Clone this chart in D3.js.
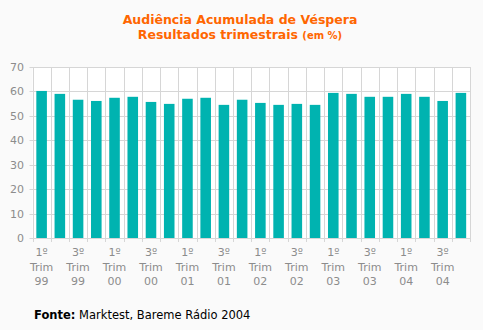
<!DOCTYPE html>
<html><head><meta charset="utf-8">
<script src="https://cdn.jsdelivr.net/npm/d3@7"></script>
<style>
html,body{margin:0;padding:0;background:#fafafa;}
svg{display:block;}
</style></head>
<body>
<script>
const categories = ["1º Trim 99","2º Trim 99","3º Trim 99","4º Trim 99",
  "1º Trim 00","2º Trim 00","3º Trim 00","4º Trim 00",
  "1º Trim 01","2º Trim 01","3º Trim 01","4º Trim 01",
  "1º Trim 02","2º Trim 02","3º Trim 02","4º Trim 02",
  "1º Trim 03","2º Trim 03","3º Trim 03","4º Trim 03",
  "1º Trim 04","2º Trim 04","3º Trim 04","4º Trim 04"];
const values = [60.2,59.0,56.6,56.1,57.4,57.8,55.7,54.9,57.0,57.4,54.5,56.6,
  55.3,54.5,54.9,54.5,59.4,59.0,57.8,57.8,59.0,57.8,56.1,59.4];
const yTicks = [0,10,20,30,40,50,60,70];
const titleLine1 = "Audiência Acumulada de Véspera";
const titleLine2 = "Resultados trimestrais";
const titleUnit = "(em %)";
const sourceBold = "Fonte:";
const sourceText = " Marktest, Bareme Rádio 2004";

const W=483,H=330;
const m={left:32.5,right:13,top:67,bottom:92};
const svg=d3.select("body").append("svg").attr("width",W).attr("height",H);
svg.append("rect").attr("width",W).attr("height",H).attr("fill","#fafafa");

const x=d3.scaleBand().domain(categories).range([m.left,W-m.right]).paddingInner(0.42).paddingOuter(0.21);
const xb=d3.scaleLinear().domain([0,categories.length]).range([m.left,W-m.right]);
const y=d3.scaleLinear().domain([0,70]).range([H-m.bottom,m.top]);

svg.append("rect").attr("x",m.left).attr("y",m.top).attr("width",W-m.right-m.left).attr("height",H-m.bottom-m.top).attr("fill","#fff");

const grid="#d6d6d6";
svg.append("g").selectAll("line").data(yTicks).join("line")
  .attr("x1",m.left-3).attr("x2",W-m.right).attr("y1",d=>Math.round(y(d))+0.5).attr("y2",d=>Math.round(y(d))+0.5)
  .attr("stroke",grid).attr("stroke-width",1);
const bounds=d3.range(categories.length+1);
svg.append("g").selectAll("line").data(bounds).join("line")
  .attr("x1",d=>Math.round(xb(d))+0.5).attr("x2",d=>Math.round(xb(d))+0.5)
  .attr("y1",m.top).attr("y2",H-m.bottom+4)
  .attr("stroke",grid).attr("stroke-width",1);

svg.append("g").selectAll("rect").data(values).join("rect")
  .attr("x",(d,i)=>x(categories[i])).attr("width",x.bandwidth())
  .attr("y",d=>y(d)).attr("height",d=>y(0)-y(d)).attr("fill","#00b3b0");

const font="'DejaVu Sans', Verdana, sans-serif";
svg.append("g").selectAll("text").data(yTicks).join("text")
  .attr("x",24).attr("y",d=>y(d)+4).attr("text-anchor","end")
  .attr("font-family",font).attr("font-size","11px").attr("fill","#8c8c8c").text(d=>d);

const xl=svg.append("g").selectAll("text").data(categories.filter((c,i)=>i%2===0)).join("text")
  .attr("text-anchor","middle").attr("font-family",font).attr("font-size","11px").attr("fill","#8c8c8c")
  .attr("transform",d=>`translate(${x(d)+x.bandwidth()/2},0)`);
xl.each(function(d){
  const parts=d.split(" ");
  const t=d3.select(this);
  parts.forEach((p,k)=>t.append("tspan").attr("x",0).attr("y",256+k*14.5).text(p));
});

const tf="'DejaVu Sans', Verdana, sans-serif";
svg.append("text").attr("x",240).attr("y",23.5).attr("text-anchor","middle")
  .attr("font-family",tf).attr("font-weight","bold").attr("font-size","12.5px").attr("fill","#ff6600").text(titleLine1);
const t2=svg.append("text").attr("x",240).attr("y",38.5).attr("text-anchor","middle")
  .attr("font-family",tf).attr("font-weight","bold").attr("font-size","12.5px").attr("fill","#ff6600");
t2.append("tspan").text(titleLine2+" ");
t2.append("tspan").attr("font-size","10px").text(titleUnit);

const s=svg.append("text").attr("x",34).attr("y",319).attr("font-family",font).attr("font-size","11.5px").attr("fill","#000");
s.append("tspan").attr("font-weight","bold").text(sourceBold);
s.append("tspan").text(sourceText);
</script>
</body></html>
